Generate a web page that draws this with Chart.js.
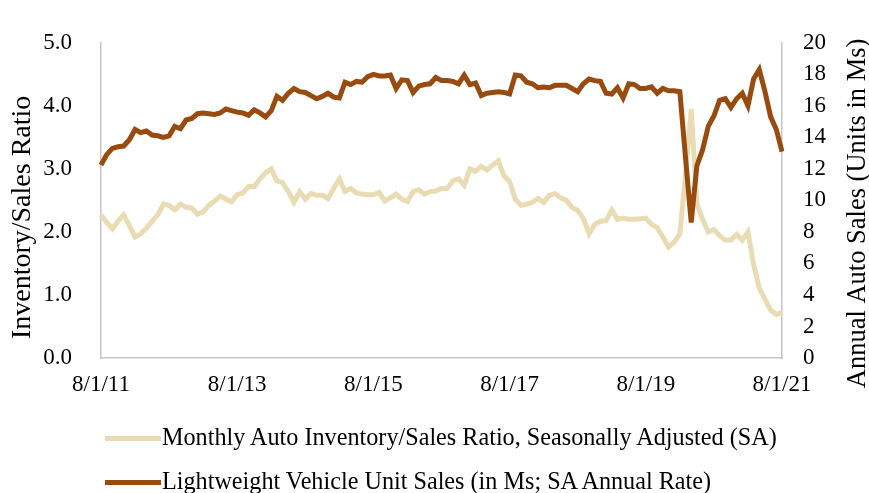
<!DOCTYPE html>
<html>
<head>
<meta charset="utf-8">
<script src="https://cdn.jsdelivr.net/npm/chart.js@4/dist/chart.umd.min.js"></script>
<style>
    html, body { margin: 0; padding: 0; background: #fff; }
    #wrap { position: relative; width: 869px; height: 493px; }
    #legend { position: absolute; left: 105px; top: 0; font-family: 'Liberation Serif', serif; font-size: 24.2px; color: #000; }
    .item { position: absolute; left: 0; white-space: nowrap; height: 30px; line-height: 30px; }
    .swatch { display: inline-block; width: 56px; height: 5px; vertical-align: middle; margin-right: 1px; position: relative; top: -1px; }
</style>
</head>
<body>
<div id="wrap">
    <canvas id="chart" width="869" height="493"></canvas>
    <div id="legend"></div>
</div>
<script>
// Monthly data, Aug 2011 - Aug 2021
const startYear = 2011
const startMonth = 8

// Auto inventory/sales ratio (left axis)
const ratioValues = [
    2.27, 2.15, 2.05, 2.17, 2.27, 2.10, 1.92, 1.97, 2.06, 2.17, 2.27, 2.44,
    2.42, 2.35, 2.44, 2.39, 2.38, 2.28, 2.32, 2.42, 2.49, 2.57, 2.52, 2.48,
    2.59, 2.62, 2.72, 2.72, 2.84, 2.94, 3.00, 2.81, 2.78, 2.64, 2.47, 2.64,
    2.52, 2.61, 2.58, 2.58, 2.53, 2.69, 2.84, 2.64, 2.69, 2.62, 2.60, 2.59,
    2.59, 2.63, 2.49, 2.54, 2.60, 2.52, 2.48, 2.64, 2.67, 2.60, 2.64, 2.65,
    2.69, 2.69, 2.81, 2.84, 2.74, 3.00, 2.96, 3.04, 2.98, 3.06, 3.13, 2.89,
    2.80, 2.52, 2.42, 2.44, 2.47, 2.53, 2.47, 2.58, 2.61, 2.54, 2.50, 2.39,
    2.34, 2.21, 1.97, 2.12, 2.17, 2.18, 2.35, 2.20, 2.22, 2.20, 2.20, 2.21,
    2.22, 2.12, 2.07, 1.92, 1.76, 1.84, 1.97, 2.90, 3.95, 2.45, 2.20, 2.00,
    2.04, 1.94, 1.87, 1.87, 1.96, 1.87, 2.00, 1.48, 1.11, 0.93, 0.76, 0.69,
    0.72
]

// Light vehicle unit sales, millions SAAR (right axis)
const salesValues = [
    12.25, 12.9, 13.3, 13.4, 13.45, 13.85, 14.5, 14.3, 14.4, 14.15, 14.1, 14.0,
    14.1, 14.7, 14.55, 15.1, 15.2, 15.5, 15.55, 15.5, 15.45, 15.55, 15.8, 15.7,
    15.6, 15.55, 15.4, 15.75, 15.55, 15.3, 15.7, 16.6, 16.35, 16.8, 17.1, 16.9,
    16.85, 16.65, 16.45, 16.6, 16.8, 16.55, 16.5, 17.5, 17.35, 17.55, 17.5, 17.85,
    18.0, 17.9, 17.9, 17.95, 17.1, 17.65, 17.6, 16.85, 17.25, 17.35, 17.4, 17.8,
    17.6, 17.6, 17.55, 17.4, 17.95, 17.35, 17.45, 16.65, 16.8, 16.85, 16.9, 16.85,
    16.75, 17.95, 17.9, 17.5, 17.4, 17.15, 17.2, 17.15, 17.3, 17.3, 17.3, 17.1,
    16.9, 17.4, 17.7, 17.6, 17.55, 16.8, 16.75, 17.15, 16.5, 17.4, 17.35, 17.1,
    17.1, 17.2, 16.8, 17.1, 16.95, 16.95, 16.9, 12.7, 8.6, 12.2, 13.2, 14.7,
    15.35, 16.35, 16.45, 15.9, 16.45, 16.8, 16.0, 17.7, 18.3, 16.9, 15.3, 14.5,
    13.1
]

const tickLabels = ['8/1/11', '8/1/13', '8/1/15', '8/1/17', '8/1/19', '8/1/21']
const ratioTicks = [0, 1, 2, 3, 4, 5]
const salesTicks = [0, 2, 4, 6, 8, 10, 12, 14, 16, 18, 20]

const seriesNames = [
    'Monthly Auto Inventory/Sales Ratio, Seasonally Adjusted (SA)',
    'Lightweight Vehicle Unit Sales (in Ms; SA Annual Rate)'
]
const seriesColors = ['#E9DCB5', '#994A0E']
const axisTitles = ['Inventory/Sales Ratio', 'Annual Auto Sales (Units in Ms)']

// Month labels as m/1/yy
let months = []
for (let i = 0; i < ratioValues.length; i++) {
    let m = (startMonth - 1 + i) % 12 + 1
    let y = startYear + Math.floor((startMonth - 1 + i) / 12)
    months.push(m + '/1/' + String(y).slice(2))
}

const serif = 'Liberation Serif'
const axisGray = '#C6C6C6'

Chart.defaults.font.family = serif
Chart.defaults.color = '#000'

// Both axis titles read bottom-to-top, so draw them ourselves
const sideTitles = {
    id: 'sideTitles',
    afterDraw (chart) {
        const ctx = chart.ctx
        const area = chart.chartArea
        const spots = [
            { x: 23, y: area.top + area.height / 2 + 17, size: 28 },
            { x: chart.width - 11, y: area.top + area.height / 2 + 13, size: 26.5 }
        ]
        ctx.save()
        ctx.fillStyle = '#000'
        ctx.textAlign = 'center'
        ctx.textBaseline = 'middle'
        for (let i = 0; i < spots.length; i++) {
            ctx.save()
            ctx.font = spots[i].size + 'px "' + serif + '"'
            ctx.translate(spots[i].x, spots[i].y)
            ctx.rotate(-Math.PI / 2)
            ctx.fillText(axisTitles[i], 0, 0)
            ctx.restore()
        }
        ctx.restore()
    }
}

const chart = new Chart(document.getElementById('chart').getContext('2d'), {
    type: 'line',
    data: {
        labels: months,
        datasets: [
            {
                label: seriesNames[0],
                data: ratioValues,
                yAxisID: 'y',
                borderColor: seriesColors[0],
                borderWidth: 5,
                pointRadius: 0,
                tension: 0,
                order: 1
            },
            {
                label: seriesNames[1],
                data: salesValues,
                yAxisID: 'y2',
                borderColor: seriesColors[1],
                borderWidth: 5,
                pointRadius: 0,
                tension: 0,
                order: 0
            }
        ]
    },
    options: {
        responsive: false,
        animation: false,
        layout: { padding: { left: 0, right: 0, top: 21, bottom: 90 } },
        plugins: {
            legend: { display: false },
            tooltip: { enabled: false }
        },
        scales: {
            x: {
                offset: false,
                grid: { display: false, drawTicks: false },
                border: { display: true, color: axisGray, width: 1.5 },
                ticks: {
                    autoSkip: false,
                    maxRotation: 0,
                    padding: 13,
                    font: { size: 23 },
                    callback: function (val, i) {
                        let lbl = months[i]
                        return tickLabels.includes(lbl) ? lbl : null
                    }
                },
                afterFit: function (scale) { scale.height = 45 }
            },
            y: {
                position: 'left',
                min: ratioTicks[0],
                max: ratioTicks[ratioTicks.length - 1],
                grid: { display: false, drawTicks: false },
                border: { display: true, color: axisGray, width: 1.5 },
                ticks: {
                    stepSize: 1,
                    padding: 29,
                    font: { size: 23 },
                    callback: v => v.toFixed(1)
                },
                afterFit: function (scale) { scale.width = 101 }
            },
            y2: {
                position: 'right',
                min: salesTicks[0],
                max: salesTicks[salesTicks.length - 1],
                grid: { display: false, drawTicks: false },
                border: { display: true, color: axisGray, width: 1.5 },
                ticks: {
                    stepSize: 2,
                    padding: 21,
                    font: { size: 23 }
                },
                afterFit: function (scale) { scale.width = 87 }
            }
        }
    },
    plugins: [sideTitles]
})

// Legend below the plot, one series per row
const legendRows = [437, 481]
const legend = document.getElementById('legend')
chart.data.datasets.forEach(function (ds, i) {
    let item = document.createElement('div')
    item.className = 'item'
    item.style.top = (legendRows[i] - 15) + 'px'
    let sw = document.createElement('span')
    sw.className = 'swatch'
    sw.style.background = ds.borderColor
    item.appendChild(sw)
    item.appendChild(document.createTextNode(ds.label))
    legend.appendChild(item)
})
</script>
</body>
</html>
